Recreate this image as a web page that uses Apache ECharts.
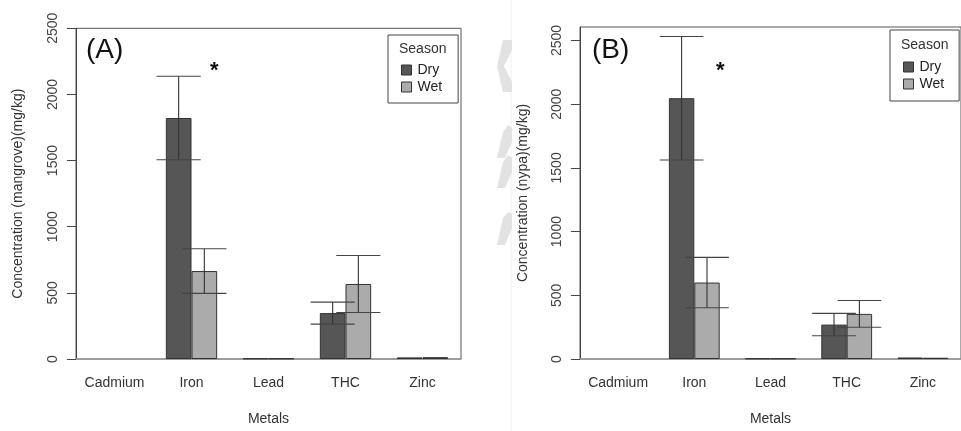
<!DOCTYPE html>
<html>
<head>
<meta charset="utf-8">
<script src="https://cdn.jsdelivr.net/npm/echarts@6/dist/echarts.min.js"></script>
<style>
html,body{margin:0;padding:0;background:#fff;}
#main{width:961px;height:431px;}
</style>
</head>
<body>
<div id="main"></div>
<script>
// ---- data ----
const categories = ['Cadmium', 'Iron', 'Lead', 'THC', 'Zinc'];
const seasons = ['Dry', 'Wet'];
const yTicks = [0, 500, 1000, 1500, 2000, 2500];

// Panel (A): mangrove
const mangroveDry = [0, 1822, 4, 347, 12];
const mangroveWet = [0, 665, 4, 567, 14];
const mangroveDryErr = [0, 316, 0, 83, 0];
const mangroveWetErr = [0, 169, 0, 215, 0];

// Panel (B): nypa
const nypaDry = [0, 2047, 4, 270, 12];
const nypaWet = [0, 600, 4, 354, 10];
const nypaDryErr = [0, 485, 0, 88, 0];
const nypaWetErr = [0, 198, 0, 105, 0];

const yMaxA = 2500;
const yMaxB = 2606;

// ---- styling ----
const FONT = "'Liberation Sans', Arial, sans-serif";
const DRY_COLOR = '#565656';
const WET_COLOR = '#ababab';
const TEXT = '#333';

function errData(means, errs) {
  const out = [];
  means.forEach((m, i) => {
    if (errs[i] > 0) out.push([i, m - errs[i], m + errs[i]]);
  });
  return out;
}

function errRenderer(sign) {
  return function (params, api) {
    const i = api.value(0);
    const band = api.size([1, 0])[0];
    const top = api.coord([i, api.value(2)]);
    const bot = api.coord([i, api.value(1)]);
    const cx = top[0] + sign * band / 6;
    const half = band / 3 * 0.86;
    const st = { stroke: '#333', lineWidth: 1.1 };
    const cap = { stroke: '#444', lineWidth: 1.1 };
    return {
      type: 'group',
      children: [
        { type: 'line', shape: { x1: cx, y1: top[1], x2: cx, y2: bot[1] }, style: st },
        { type: 'line', shape: { x1: cx - half, y1: top[1], x2: cx + half, y2: top[1] }, style: cap },
        { type: 'line', shape: { x1: cx - half, y1: bot[1], x2: cx + half, y2: bot[1] }, style: cap }
      ]
    };
  };
}

function barSeries(name, data, idx, color) {
  return {
    type: 'bar', name: name,
    data: data.map(v => v === 0 ? { value: 0, itemStyle: { borderWidth: 0, opacity: 0 } } : v),
    xAxisIndex: idx, yAxisIndex: idx,
    barWidth: '33.33%', barGap: '0%',
    itemStyle: { color: color, borderColor: '#333', borderWidth: 1 },
    z: 2
  };
}

function errSeries(name, data, idx, sign) {
  return {
    type: 'custom', name: name, data: data,
    xAxisIndex: idx, yAxisIndex: idx,
    renderItem: errRenderer(sign), z: 5, silent: true
  };
}

function xAxisCfg(idx) {
  return {
    type: 'category', gridIndex: idx, data: categories,
    axisLine: { show: true, lineStyle: { color: '#999', width: 1.5 } },
    axisTick: { show: false },
    axisLabel: { interval: 0, color: TEXT, fontSize: 14, fontFamily: FONT, margin: 17 },
    name: 'Metals', nameLocation: 'middle', nameGap: 53,
    nameTextStyle: { color: TEXT, fontSize: 14, fontFamily: FONT },
    splitLine: { show: false }
  };
}

function yAxisCfg(idx, max, name, gap) {
  return {
    type: 'value', gridIndex: idx, min: 0, max: max, interval: 500,
    axisLine: { show: true, lineStyle: { color: '#444', width: 1 } },
    axisTick: { show: true, length: 9, lineStyle: { color: '#444' }, customValues: yTicks },
    axisLabel: {
      rotate: 90, color: '#444', fontSize: 14, fontFamily: FONT, margin: 16,
      customValues: yTicks, formatter: v => String(v)
    },
    splitLine: { show: false },
    name: name, nameLocation: 'middle', nameRotate: 90, nameGap: gap,
    nameTextStyle: { color: TEXT, fontSize: 14, fontFamily: FONT }
  };
}

function legendCfg(left, top, pad) {
  return {
    orient: 'vertical', left: left, top: top, data: seasons,
    icon: 'rect', itemWidth: 10, itemHeight: 10, itemGap: 3,
    itemStyle: { borderColor: '#333', borderWidth: 1, opacity: 1 },
    padding: pad, borderColor: '#444', borderWidth: 1, borderRadius: 0,
    textStyle: { color: '#222', fontSize: 14, fontFamily: FONT, lineHeight: 14, padding: [0, 0, 0, 1] },
    selectedMode: false
  };
}

const chart = echarts.init(document.getElementById('main'), null, { renderer: 'canvas' });

const option = {
  animation: false,
  backgroundColor: '#fff',
  grid: [
    { left: 76, top: 28.3, width: 385, height: 334.4, show: true, borderColor: '#555', borderWidth: 1, backgroundColor: 'transparent' },
    { left: 580, top: 27, width: 385, height: 335.7, show: true, borderColor: '#555', borderWidth: 1, backgroundColor: 'transparent' }
  ],
  xAxis: [xAxisCfg(0), xAxisCfg(1)],
  yAxis: [
    yAxisCfg(0, yMaxA, 'Concentration (mangrove)(mg/kg)', 51),
    yAxisCfg(1, yMaxB, 'Concentration (nypa)(mg/kg)', 50)
  ],
  legend: [
    legendCfg(388, 35, [28, 16, 9, 13]),
    legendCfg(890, 30, [30, 15, 10, 13])
  ],
  series: [
    barSeries('Dry', mangroveDry, 0, DRY_COLOR),
    barSeries('Wet', mangroveWet, 0, WET_COLOR),
    errSeries('errDryA', errData(mangroveDry, mangroveDryErr), 0, -1),
    errSeries('errWetA', errData(mangroveWet, mangroveWetErr), 0, 1),
    barSeries('Dry', nypaDry, 1, DRY_COLOR),
    barSeries('Wet', nypaWet, 1, WET_COLOR),
    errSeries('errDryB', errData(nypaDry, nypaDryErr), 1, -1),
    errSeries('errWetB', errData(nypaWet, nypaWetErr), 1, 1)
  ],
  graphic: [
    // faint watermark / image-edge artefacts between the panels
    { type: 'line', shape: { x1: 511, y1: 0, x2: 511, y2: 431 }, style: { stroke: '#f0f0f0', lineWidth: 1 }, silent: true },
    { type: 'polygon', shape: { points: [[503, 40], [512, 40], [512, 50], [504, 66], [512, 82], [512, 92], [503, 92], [497, 66]] }, style: { fill: '#e2e2e2' }, silent: true },
    { type: 'polygon', shape: { points: [[497, 158], [503, 132], [508, 125], [512, 128], [512, 142], [505, 158]] }, style: { fill: '#e2e2e2' }, silent: true },
    { type: 'polygon', shape: { points: [[497, 188], [503, 162], [508, 155], [512, 158], [512, 172], [505, 188]] }, style: { fill: '#e2e2e2' }, silent: true },
    { type: 'polygon', shape: { points: [[497, 245], [503, 218], [508, 212], [512, 214], [512, 228], [505, 245]] }, style: { fill: '#e2e2e2' }, silent: true },
    // panel tags
    { type: 'text', left: 86, top: 36, style: { text: '(A)', font: "28px " + FONT, fill: '#111' } },
    { type: 'text', left: 592, top: 36, style: { text: '(B)', font: "28px " + FONT, fill: '#111' } },
    // significance marks
    { type: 'text', left: 210, top: 60, style: { text: '*', font: "bold 22px " + FONT, fill: '#111' } },
    { type: 'text', left: 716, top: 60, style: { text: '*', font: "bold 22px " + FONT, fill: '#111' } },
    // legend titles
    { type: 'text', left: 399, top: 42, style: { text: 'Season', font: "14px " + FONT, fill: TEXT } },
    { type: 'text', left: 901, top: 38, style: { text: 'Season', font: "14px " + FONT, fill: TEXT } }
  ]
};

chart.setOption(option);
</script>
</body>
</html>
